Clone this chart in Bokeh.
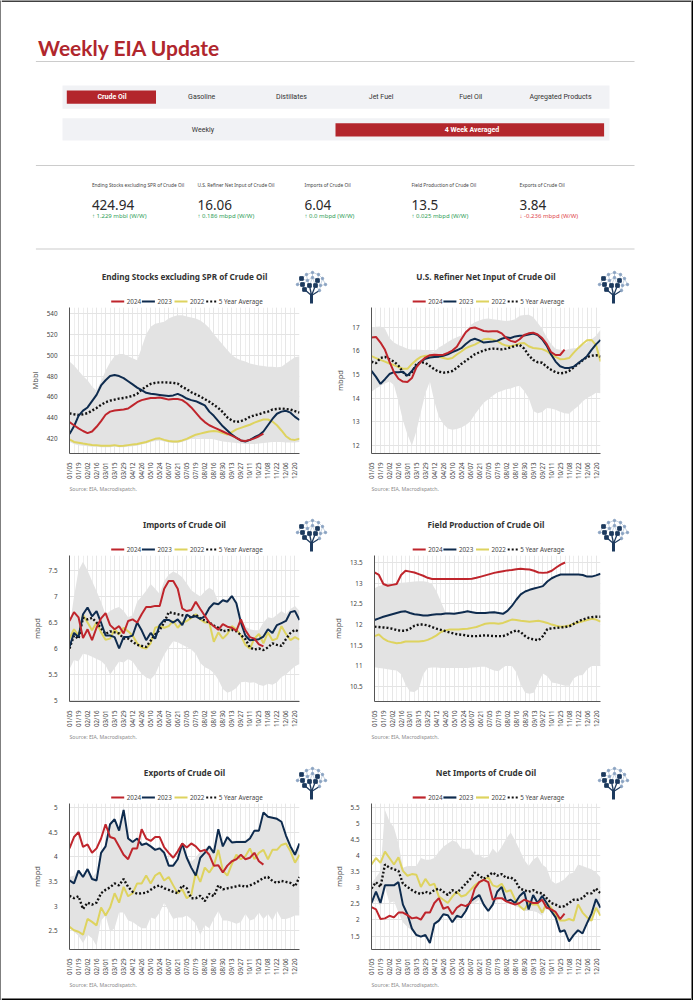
import math
from bokeh.plotting import figure
from bokeh.models import Range1d, FixedTicker, NumeralTickFormatter
from bokeh.layouts import column, row
from bokeh.embed import file_html
from bokeh.resources import INLINE
from bokeh.core.properties import value

# ---------------- data ----------------
weeks = list(range(52))
week_labels = ["01/05", "01/19", "02/02", "02/16", "03/01", "03/15", "03/29", "04/12", "04/26",
               "05/10", "05/24", "06/07", "06/21", "07/05", "07/19", "08/02", "08/16", "08/30",
               "09/13", "09/27", "10/11", "10/25", "11/08", "11/22", "12/06", "12/20"]
series_names = ["2024", "2023", "2022", "5 Year Average"]

tabs = ["Crude Oil", "Gasoline", "Distillates", "Jet Fuel", "Fuel Oil", "Agregated Products"]
modes = ["Weekly", "4 Week Averaged"]
stat_titles = ["Ending Stocks excluding SPR of Crude Oil", "U.S. Refiner Net Input of Crude Oil",
               "Imports of Crude Oil", "Field Production of Crude Oil", "Exports of Crude Oil"]
stat_values = ["424.94", "16.06", "6.04", "13.5", "3.84"]
stat_changes = ["\u2191 1.229 mbbl (W/W)", "\u2191 0.186 mbpd (W/W)", "\u2191 0.0 mbpd (W/W)",
                "\u2191 0.025 mbpd (W/W)", "\u2193 -0.236 mbpd (W/W)"]
stat_up = [True, True, True, True, False]
source_text = "Source: EIA, Macrodispatch."

# Ending stocks excluding SPR (Mbbl)
stocks_2024 = [436, 433, 430, 427.5, 425.5, 427, 431.5, 437, 443, 446, 447, 447.5, 448, 449, 452, 455, 457, 458,
               459, 459, 459.5, 458.5, 457.5, 458, 458, 457, 454, 450, 445, 440, 436, 433, 431, 429, 427, 425,
               423, 421, 418.5, 418, 419, 420.5, 422.5, 424.94]
stocks_2023 = [424.6, 432, 442, 447, 450, 456, 462, 471, 476, 480, 481, 480, 478, 475, 472, 469, 466.5, 464, 463,
               462.5, 462, 461.5, 461, 461.5, 463, 461, 458.5, 457, 456, 454, 452, 446, 442, 437, 432, 428, 424,
               421, 418.5, 417.5, 419, 421.5, 423.5, 427, 433, 439, 444, 446, 446.8, 445, 441, 438]
stocks_2022 = [419.4, 417, 416.3, 415.5, 414.8, 414.2, 414, 413.5, 413.5, 413.5, 414, 413.2, 413.5, 414, 414.5,
               415, 416, 417, 418.5, 420, 420.5, 419, 418, 417.5, 417.5, 418.5, 420, 422, 424, 425, 426, 427,
               427.5, 427, 425.5, 424, 426.5, 429, 430.5, 432, 433.5, 435.5, 437, 438.5, 438.5, 436.5, 433, 428,
               422.5, 419.5, 419, 420]
stocks_avg = [444.3, 443.5, 442.8, 443.5, 444.5, 447, 449.5, 452.5, 455, 456.5, 457.5, 458.5, 459, 460, 461, 463,
              467, 470, 472.5, 473.5, 474, 474, 473.8, 473.5, 472.8, 469.5, 467.5, 464.5, 462.5, 460.5, 458, 455.5,
              452.5, 449.5, 445.5, 440.5, 437.5, 436, 437, 438.5, 441, 442.5, 443.5, 445, 446, 448, 448.5, 449,
              448.5, 448, 446.5, 445]
stocks_lo = [417, 415, 414, 413.5, 413, 412.5, 412.5, 412, 412, 412, 412.5, 412, 412, 412.5, 413, 413.5, 414.5,
             415.5, 417, 418, 418.5, 417.5, 416.5, 416, 416, 417, 418.5, 420, 421, 421, 420.5, 420, 419.5, 418.5,
             417.5, 417, 416.5, 416, 415.5, 415, 415, 415, 415.5, 416, 416.5, 417, 417, 417, 416.5, 416.5, 416.5, 417]
stocks_hi = [494, 490, 485, 480, 476, 470, 466, 475, 485, 493, 499, 501, 501, 499, 497, 495, 507, 520, 527, 530,
             531, 532, 535, 537, 538, 538, 537, 536, 535, 533, 530, 526, 520, 515, 510, 505, 500, 497, 495, 494,
             492, 491, 490, 489.5, 489, 489, 488.5, 489, 492, 495, 498, 499]

# U.S. refiner net input (mbpd)
refin_2024 = [16.57, 16.6, 16.36, 16.05, 15.55, 15.1, 14.82, 14.7, 14.68, 14.85, 15.3, 15.55, 15.72, 15.82, 15.84,
              15.83, 15.84, 15.92, 16.02, 16.18, 16.5, 16.8, 16.97, 17.0, 16.93, 16.85, 16.83, 16.84, 16.84, 16.75,
              16.55, 16.43, 16.38, 16.5, 16.68, 16.75, 16.78, 16.7, 16.55, 16.3, 15.95, 15.83, 15.83, 16.06]
refin_2023 = [15.15, 14.9, 14.6, 14.8, 15.02, 15.1, 15.1, 15.12, 14.95, 15.15, 15.38, 15.55, 15.67, 15.72, 15.74,
              15.76, 15.8, 15.86, 15.95, 16.03, 16.12, 16.3, 16.45, 16.52, 16.45, 16.36, 16.38, 16.4, 16.43, 16.52,
              16.58, 16.55, 16.62, 16.65, 16.66, 16.7, 16.74, 16.68, 16.5, 16.23, 15.85, 15.55, 15.35, 15.28, 15.28,
              15.33, 15.48, 15.62, 15.78, 16.05, 16.28, 16.47]
refin_2022 = [15.78, 15.7, 15.62, 15.55, 15.47, 15.4, 15.32, 15.25, 15.24, 15.45, 15.62, 15.75, 15.8, 15.8, 15.79,
              15.76, 15.7, 15.66, 15.7, 15.85, 15.98, 16.12, 16.2, 16.27, 16.38, 16.5, 16.52, 16.48, 16.43, 16.3,
              16.23, 16.2, 16.25, 16.32, 16.34, 16.2, 16.13, 16.11, 16.08, 16.0, 15.85, 15.75, 15.65, 15.66, 15.7,
              15.92, 16.12, 16.3, 16.46, 16.47, 16.25, 15.55]
refin_avg = [15.55, 15.48, 15.7, 15.75, 15.65, 15.55, 15.38, 15.1, 14.92, 15.1, 15.45, 15.52, 15.5, 15.36, 15.22,
             15.12, 15.08, 15.1, 15.15, 15.28, 15.45, 15.58, 15.72, 15.86, 15.94, 16.02, 16.08, 16.1, 16.09, 16.07,
             16.1, 16.15, 16.22, 16.26, 16.1, 15.82, 15.62, 15.52, 15.5, 15.33, 15.2, 15.1, 15.05, 15.07, 15.15,
             15.3, 15.45, 15.6, 15.74, 15.8, 15.82, 15.76]
refin_lo = [14.27, 14.4, 14.52, 14.62, 14.7, 14.55, 13.85, 13.05, 12.45, 11.98, 12.6, 13.4, 14.2, 14.7, 13.85, 13.2,
            12.9, 12.7, 12.65, 12.68, 12.75, 12.85, 13.0, 13.3, 13.55, 13.8, 13.95, 14.1, 14.23, 14.3, 14.37, 14.41,
            14.48, 14.52, 14.3, 14.0, 13.45, 13.35, 13.4, 13.58, 13.55, 13.5, 13.42, 13.35, 13.33, 13.5, 13.65,
            13.85, 14.0, 14.1, 14.22, 14.2]
refin_hi = [16.97, 17.03, 17.04, 16.95, 16.55, 16.36, 16.25, 16.18, 16.1, 16.05, 16.06, 16.05, 16.03, 16.0, 15.97,
            16.15, 16.25, 16.38, 16.5, 16.58, 16.66, 16.85, 17.1, 17.22, 17.3, 17.36, 17.38, 17.35, 17.33, 17.3,
            17.28, 17.3, 17.35, 17.5, 17.53, 17.54, 17.45, 17.2, 16.95, 16.6, 16.3, 16.1, 16.05, 16.03, 16.08,
            16.12, 16.12, 16.25, 16.35, 16.5, 16.65, 16.9]

# Imports of crude oil (mbpd)
imp_2024 = [6.53, 6.7, 6.6, 6.2, 6.37, 6.16, 6.4, 6.58, 6.68, 6.45, 6.37, 6.43, 6.29, 6.53, 6.56, 6.5, 6.66, 6.8,
            6.8, 6.82, 6.82, 7.15, 7.3, 7.3, 7.15, 6.77, 6.72, 6.74, 6.9, 6.76, 6.63, 6.5, 6.43, 6.36, 6.47, 6.42,
            6.4, 6.34, 6.56, 6.35, 6.22, 6.19, 6.08, 6.04]
imp_2023 = [6.03, 6.3, 6.22, 6.66, 6.79, 6.62, 6.72, 6.5, 6.25, 6.25, 6.22, 6.0, 6.22, 6.22, 6.25, 6.5, 6.35, 6.16,
            6.3, 6.19, 6.45, 6.55, 6.55, 6.5, 6.56, 6.45, 6.65, 6.6, 6.62, 6.57, 6.62, 6.78, 6.87, 6.85, 6.93, 6.9,
            7.01, 6.87, 6.5, 6.25, 6.16, 6.17, 6.18, 6.23, 6.37, 6.3, 6.45, 6.49, 6.53, 6.7, 6.72, 6.55]
imp_2022 = [6.19, 6.37, 6.25, 6.65, 6.5, 6.35, 6.5, 6.31, 6.17, 6.19, 6.37, 6.27, 6.4, 6.33, 6.25, 6.1, 6.02, 6.0,
            6.1, 6.4, 6.43, 6.4, 6.43, 6.53, 6.4, 6.5, 6.53, 6.59, 6.66, 6.56, 6.5, 6.5, 6.13, 6.31, 6.19, 6.28,
            6.43, 6.37, 6.25, 6.07, 6.0, 6.19, 6.28, 6.1, 6.31, 6.16, 6.19, 6.43, 6.28, 6.16, 6.22, 6.17]
imp_avg = [6.0, 6.25, 6.19, 6.59, 6.56, 6.59, 6.5, 6.39, 6.28, 6.33, 6.31, 6.29, 6.19, 6.19, 6.13, 6.07, 6.05, 6.03,
           6.15, 6.27, 6.36, 6.5, 6.7, 6.68, 6.66, 6.64, 6.62, 6.6, 6.65, 6.58, 6.54, 6.5, 6.44, 6.4, 6.33, 6.35,
           6.36, 6.33, 6.26, 6.18, 6.02, 5.98, 6.0, 5.97, 6.02, 6.1, 6.07, 6.05, 6.18, 6.3, 6.36, 6.32]
imp_lo = [5.6, 5.78, 5.75, 5.9, 5.88, 5.84, 5.8, 5.76, 5.68, 5.5, 5.62, 5.75, 5.73, 5.8, 5.75, 5.62, 5.52, 5.44,
          5.41, 5.5, 5.7, 5.88, 6.02, 6.14, 6.12, 6.07, 6.03, 5.98, 5.9, 5.72, 5.64, 5.6, 5.53, 5.4, 5.22, 5.15,
          5.18, 5.24, 5.35, 5.36, 5.34, 5.35, 5.3, 5.28, 5.32, 5.3, 5.35, 5.45, 5.5, 5.58, 5.66, 5.7]
imp_hi = [6.4, 7.0, 7.5, 7.67, 7.5, 7.3, 7.1, 6.9, 6.65, 6.72, 6.77, 6.8, 6.72, 6.6, 6.64, 6.9, 7.0, 7.11, 7.24,
          7.15, 7.05, 7.3, 7.42, 7.48, 7.44, 7.37, 7.25, 7.12, 7.06, 7.0, 7.1, 7.17, 7.11, 6.9, 6.95, 6.95, 7.02,
          6.9, 6.62, 6.42, 6.37, 6.35, 6.35, 6.5, 6.6, 6.58, 6.65, 6.72, 6.66, 6.76, 6.82, 6.72]

# Field production of crude oil (mbpd)
prod_2024 = [13.26, 13.2, 12.98, 12.94, 12.96, 12.98, 13.2, 13.3, 13.28, 13.26, 13.22, 13.18, 13.13, 13.1, 13.1,
             13.1, 13.1, 13.1, 13.1, 13.1, 13.1, 13.1, 13.11, 13.13, 13.16, 13.19, 13.22, 13.25, 13.27, 13.29,
             13.31, 13.32, 13.34, 13.35, 13.34, 13.33, 13.3, 13.26, 13.25, 13.26, 13.3, 13.38, 13.45, 13.5]
prod_2023 = [12.11, 12.15, 12.19, 12.22, 12.25, 12.28, 12.31, 12.32, 12.28, 12.25, 12.24, 12.22, 12.22, 12.24,
             12.25, 12.25, 12.27, 12.27, 12.26, 12.28, 12.3, 12.32, 12.3, 12.28, 12.28, 12.28, 12.29, 12.3, 12.28,
             12.26, 12.33, 12.45, 12.6, 12.73, 12.8, 12.84, 12.87, 12.9, 12.93, 13.04, 13.12, 13.17, 13.21, 13.21,
             13.21, 13.21, 13.21, 13.2, 13.16, 13.16, 13.19, 13.23]
prod_2022 = [11.72, 11.76, 11.66, 11.6, 11.57, 11.55, 11.56, 11.59, 11.59, 11.59, 11.59, 11.6, 11.63, 11.68, 11.74,
             11.82, 11.86, 11.88, 11.88, 11.88, 11.89, 11.9, 11.92, 11.94, 11.98, 12.02, 12.03, 12.03, 12.02, 12.04,
             12.08, 12.12, 12.11, 12.09, 12.08, 12.07, 12.08, 12.09, 12.07, 12.04, 12.0, 11.97, 11.95, 11.96, 11.98,
             12.02, 12.05, 12.08, 12.11, 12.14, 12.12, 12.07]
prod_avg = [11.95, 11.94, 11.93, 11.92, 11.9, 11.87, 11.85, 11.85, 11.9, 11.97, 12.0, 12.0, 11.98, 11.94, 11.9,
            11.87, 11.84, 11.81, 11.78, 11.76, 11.75, 11.73, 11.72, 11.72, 11.73, 11.74, 11.73, 11.72, 11.72, 11.72,
            11.76, 11.82, 11.86, 11.82, 11.72, 11.66, 11.64, 11.62, 11.72, 11.89, 11.91, 11.92, 11.93, 11.94, 11.96,
            12.02, 12.08, 12.12, 12.16, 12.18, 12.19, 12.19]
prod_lo = [10.97, 10.95, 10.94, 10.92, 10.9, 10.89, 10.8, 10.55, 10.38, 10.37, 10.45, 10.8, 10.95, 10.96, 10.96,
           10.95, 10.95, 10.95, 10.95, 10.95, 10.95, 10.95, 10.96, 10.97, 10.98, 10.98, 10.93, 10.89, 10.87, 10.96,
           11.02, 11.0, 10.85, 10.55, 10.35, 10.33, 10.36, 10.6, 10.82, 10.75, 10.6, 10.58, 10.55, 10.52, 10.52,
           10.7, 10.77, 10.78, 10.92, 11.0, 11.03, 10.99]
prod_hi = [12.88, 12.93, 12.96, 12.98, 13.0, 13.0, 13.01, 13.02, 13.03, 13.04, 13.05, 13.05, 13.03, 12.98, 12.8,
           12.55, 12.3, 12.29, 12.28, 12.3, 12.31, 12.33, 12.32, 12.3, 12.3, 12.3, 12.31, 12.32, 12.3, 12.28, 12.35,
           12.47, 12.62, 12.75, 12.82, 12.86, 12.89, 12.92, 12.95, 13.06, 13.14, 13.19, 13.22, 13.22, 13.22, 13.22,
           13.22, 13.21, 13.18, 13.18, 13.2, 13.24]

# Exports of crude oil (mbpd)
exp_2024 = [4.17, 4.4, 4.5, 4.2, 4.25, 4.08, 4.17, 4.37, 4.66, 4.4, 4.37, 4.21, 4.04, 3.95, 4.17, 4.17, 4.56, 4.37,
            4.32, 4.4, 4.4, 4.19, 4.08, 3.98, 4.11, 4.27, 4.19, 4.27, 4.21, 4.11, 4.14, 4.04, 3.82, 3.83, 3.68, 3.82,
            3.91, 3.95, 4.04, 3.95, 3.98, 4.08, 3.91, 3.84]
exp_2023 = [3.52, 3.46, 3.72, 3.59, 3.75, 3.55, 3.52, 4.08, 4.21, 4.66, 4.76, 4.53, 4.95, 4.37, 4.3, 4.37, 4.24,
            4.27, 4.21, 4.14, 4.17, 4.08, 3.82, 3.82, 3.95, 4.27, 3.98, 3.78, 3.62, 3.98, 4.08, 4.21, 4.08, 4.56,
            4.21, 4.4, 4.29, 4.3, 4.3, 4.3, 4.37, 4.53, 4.53, 4.9, 4.81, 4.79, 4.77, 4.71, 4.43, 4.21, 4.04, 4.27]
exp_2022 = [2.58, 2.51, 2.48, 2.42, 2.74, 2.68, 2.61, 2.97, 2.81, 2.97, 3.26, 3.07, 3.39, 3.2, 3.26, 3.46, 3.46,
            3.62, 3.46, 3.62, 3.68, 3.52, 3.59, 3.42, 3.26, 3.34, 3.16, 3.23, 3.68, 3.49, 3.78, 3.68, 3.82, 4.14,
            3.72, 3.62, 3.85, 4.04, 3.95, 4.01, 4.17, 3.95, 4.08, 4.14, 3.95, 4.14, 4.14, 4.24, 4.27, 4.11, 3.88, 4.04]
exp_avg = [3.21, 3.16, 3.2, 2.94, 3.07, 3.03, 3.07, 3.26, 3.33, 3.38, 3.46, 3.42, 3.55, 3.39, 3.29, 3.25, 3.26,
           3.27, 3.33, 3.39, 3.42, 3.36, 3.33, 3.29, 3.26, 3.42, 3.36, 3.16, 3.16, 3.21, 3.1, 3.25, 3.2, 3.42, 3.34,
           3.36, 3.38, 3.4, 3.42, 3.39, 3.42, 3.46, 3.51, 3.57, 3.59, 3.51, 3.47, 3.51, 3.49, 3.47, 3.4, 3.59]
exp_lo = [2.55, 2.48, 2.4, 2.25, 2.42, 2.35, 2.19, 2.71, 2.81, 2.48, 2.55, 2.87, 2.87, 2.71, 2.68, 2.61, 2.55, 2.55,
          2.77, 2.74, 2.87, 3.07, 2.9, 2.74, 2.77, 2.77, 2.81, 2.74, 2.64, 2.42, 2.61, 2.55, 2.74, 2.9, 2.71, 2.71,
          2.68, 2.64, 2.68, 2.84, 2.71, 2.74, 2.87, 2.74, 2.84, 2.71, 2.9, 2.74, 2.74, 2.77, 2.81, 2.81]
exp_hi = [3.59, 3.62, 3.75, 3.62, 3.78, 3.58, 3.68, 4.1, 4.23, 4.68, 4.78, 4.55, 4.97, 4.4, 4.33, 4.39, 4.27, 4.29,
          4.23, 4.17, 4.21, 4.11, 3.85, 3.85, 3.98, 4.29, 4.01, 3.9, 3.98, 4.11, 4.17, 4.23, 4.12, 4.58, 4.24, 4.42,
          4.32, 4.33, 4.33, 4.34, 4.4, 4.56, 4.56, 4.92, 4.83, 4.81, 4.79, 4.73, 4.45, 4.23, 4.08, 4.29]

# Net imports of crude oil (mbpd)
net_2024 = [2.4, 2.33, 2.03, 2.05, 2.13, 2.08, 2.23, 2.23, 2.15, 2.05, 2.08, 2.01, 2.23, 2.23, 2.53, 2.68, 2.35,
            2.41, 2.18, 2.38, 2.48, 2.43, 2.53, 2.98, 3.18, 3.25, 3.18, 2.63, 2.68, 2.68, 2.58, 2.53, 2.48, 2.53,
            2.63, 2.58, 2.53, 2.53, 2.63, 2.38, 2.33, 2.25, 2.03, 2.2]
net_2023 = [2.53, 2.88, 2.53, 3.08, 3.08, 3.08, 3.18, 2.48, 2.18, 1.73, 1.53, 1.48, 1.53, 1.28, 1.88, 1.98, 2.18,
            2.15, 1.93, 2.13, 2.08, 2.28, 2.58, 2.68, 2.78, 2.48, 2.28, 2.48, 2.88, 3.03, 2.58, 2.63, 2.53, 2.75,
            2.88, 2.33, 2.78, 2.53, 2.75, 2.53, 2.28, 2.08, 1.63, 1.68, 1.33, 1.53, 1.68, 1.58, 1.9, 2.2, 2.65, 2.38]
net_2022 = [3.73, 3.93, 3.78, 4.13, 3.93, 3.73, 3.95, 3.53, 3.38, 3.43, 3.41, 3.03, 3.28, 3.08, 3.13, 2.73, 2.63,
            2.53, 2.73, 2.88, 2.73, 2.78, 2.93, 3.08, 3.18, 3.25, 3.33, 3.08, 3.03, 3.13, 2.88, 2.93, 2.63, 2.43,
            2.31, 2.53, 2.48, 2.48, 2.23, 2.53, 2.38, 2.18, 1.98, 1.98, 2.03, 1.98, 2.48, 2.23, 2.08, 1.98, 2.38, 2.13]
net_avg = [2.98, 3.18, 3.03, 3.73, 3.63, 3.58, 3.53, 3.13, 3.03, 2.93, 2.85, 2.81, 2.88, 2.83, 2.93, 2.98, 2.88,
           2.78, 2.93, 2.85, 2.98, 3.13, 3.28, 3.48, 3.38, 3.28, 3.38, 3.48, 3.38, 3.43, 3.31, 3.33, 3.23, 2.98,
           2.93, 2.88, 2.93, 2.85, 2.83, 2.68, 2.53, 2.48, 2.41, 2.43, 2.53, 2.63, 2.63, 2.68, 2.83, 2.83, 2.98, 2.83]
net_lo = [2.48, 2.63, 2.43, 3.03, 2.53, 2.58, 2.23, 1.93, 1.78, 1.68, 1.53, 1.48, 1.53, 1.33, 1.88, 1.98, 2.15,
          2.13, 1.93, 2.13, 2.08, 2.25, 2.53, 2.53, 2.63, 2.43, 2.28, 2.43, 2.63, 2.68, 2.58, 2.63, 2.43, 2.38,
          2.28, 2.28, 2.28, 2.23, 2.13, 2.38, 2.23, 2.03, 1.63, 1.68, 1.33, 1.53, 1.68, 1.58, 1.88, 1.98, 2.33, 2.13]
net_hi = [3.13, 3.33, 3.53, 5.43, 5.08, 4.88, 4.38, 3.63, 3.68, 3.68, 3.68, 3.93, 3.88, 3.88, 3.93, 4.13, 4.28,
          4.38, 4.48, 4.43, 4.23, 4.21, 4.23, 4.03, 4.03, 3.93, 3.98, 4.23, 4.08, 4.28, 4.53, 4.73, 4.48, 4.18,
          3.88, 3.68, 3.88, 3.98, 3.73, 3.63, 3.23, 3.13, 3.18, 3.28, 3.43, 3.48, 3.73, 3.68, 3.63, 3.58, 3.48, 3.33]

# ---------------- style / layout constants ----------------
RED = "#bf252c"
NAVY = "#0e2b4e"
YELLOW = "#ded35f"
BLACK = "#111111"
BAND = "#e3e3e3"
TXT = "#333333"
FONT = "Noto Sans"
SERIES_COLORS = [RED, NAVY, YELLOW, BLACK]
SERIES_DASH = ["solid", "solid", "solid", "2 2"]

INNER_W = 690                       # page width between the black frame strips
LEFT_W, RIGHT_W = 329, 361          # widths of the two chart columns
FRAME_CENTERS = [184, 485.5]        # x centres of the two plot frames (page px)
LOGO_X = [296, 598]                 # left edge of the logos
LEG_OFF = [-73.3, -42.6, -10.0, 21.7]
LEG_GLYPH = [13, 13, 13, 10]


def base_fig(width, height, xr, yr):
    p = figure(width=width, height=height, x_range=Range1d(*xr), y_range=Range1d(*yr),
               output_backend="svg", toolbar_location=None, min_border=0, outline_line_color=None,
               x_axis_type=None, y_axis_type=None, border_fill_color="white", background_fill_color="white")
    p.grid.visible = False
    return p


def draw_logo(p, ox, oy):
    nodes = [(1, 12), (5, 6), (10, 2), (16, 0), (22, 2), (26, 6), (29, 12), (6, 12), (11, 8),
             (16, 5), (21, 8), (24, 13), (13, 13), (19, 13), (8, 17), (23, 18)]
    links = [(0, 1), (1, 2), (2, 3), (3, 4), (4, 5), (5, 6), (0, 7), (1, 8), (2, 8), (3, 9), (4, 10),
             (5, 11), (6, 11), (7, 8), (8, 9), (9, 10), (10, 11), (7, 14), (8, 12), (9, 12), (9, 13),
             (10, 13), (11, 15), (12, 14), (13, 15)]
    p.segment(x0=[ox + nodes[a][0] for a, b in links], y0=[oy + nodes[a][1] for a, b in links],
              x1=[ox + nodes[b][0] for a, b in links], y1=[oy + nodes[b][1] for a, b in links],
              line_color="#a5b8cf", line_width=0.6)
    p.segment(x0=[ox + 15] * 4, y0=[oy + 23] * 4,
              x1=[ox + 8, ox + 13, ox + 19, ox + 23], y1=[oy + 17, oy + 13, oy + 13, oy + 18],
              line_color="#1d3a5e", line_width=1.3)
    p.quad(left=[ox + 13.5], right=[ox + 16.5], top=[oy + 21], bottom=[oy + 31], fill_color="#1d3a5e",
           line_color=None)
    p.scatter([ox + x for x, y in nodes], [oy + y for x, y in nodes], size=2.4, color="#8aa3c2")
    big = [1, 7, 10, 12, 13, 14]
    p.scatter([ox + nodes[i][0] for i in big], [oy + nodes[i][1] for i in big], size=3.6, marker="square",
              color="#1d3a5e")


def make_top(titles):
    p = base_fig(INNER_W, 47, (1, 1 + INNER_W), (47, 0))
    p.text(x=FRAME_CENTERS, y=[16, 16], text=titles, text_font=value(FONT), text_font_size="8.2px",
           text_font_style="bold", text_color=TXT, text_align="center", text_baseline="middle")
    for cx in FRAME_CENTERS:
        for name, col, dash, off, gl in zip(series_names, SERIES_COLORS, SERIES_DASH, LEG_OFF, LEG_GLYPH):
            x0 = cx + off
            p.line([x0, x0 + gl], [41, 41], line_color=col, line_width=2.2, line_dash=dash)
            p.text(x=[x0 + gl + 2.5], y=[41.3], text=[name], text_font=value(FONT), text_font_size="6.3px",
                   text_color="#444444", text_align="left", text_baseline="middle")
    for lx in LOGO_X:
        draw_logo(p, lx, 12)
    return p


def make_source(height, bottom_frame=False):
    p = base_fig(INNER_W, height, (1, 1 + INNER_W), (height, 0))
    p.text(x=[69, 371], y=[7, 7], text=[source_text, source_text], text_font=value(FONT),
           text_font_size="5.2px", text_color="#8a8a8a", text_align="left", text_baseline="middle")
    if bottom_frame:
        p.segment(x0=[1], x1=[1 + INNER_W], y0=[height - 1], y1=[height - 1], line_color="black", line_width=2)
    return p


def make_chart(ylabel, yr, yticks, d24, d23, d22, davg, dlo, dhi, width, left, right):
    p = figure(width=width, height=174, x_range=Range1d(0, 51), y_range=Range1d(*yr),
               output_backend="svg", toolbar_location=None,
               min_border_left=left, min_border_right=right, min_border_top=0, min_border_bottom=22,
               outline_line_color=None, border_fill_color="white", background_fill_color="white")
    major = list(range(0, 52, 2))
    xt = FixedTicker(ticks=major, minor_ticks=weeks)
    p.xaxis.ticker = xt
    p.xgrid.ticker = xt
    p.xaxis.major_label_overrides = {w: lab for w, lab in zip(major, week_labels)}
    p.xaxis.major_label_orientation = math.pi / 2
    p.xaxis.major_label_text_font_size = "6.2px"
    p.xaxis.major_label_text_color = "#444444"
    p.xaxis.major_label_text_font = FONT
    p.xaxis.major_label_standoff = 3
    p.xaxis.major_tick_line_color = None
    p.xaxis.minor_tick_line_color = None
    p.xaxis.axis_line_color = "#555555"

    yt = FixedTicker(ticks=yticks)
    p.yaxis.ticker = yt
    p.ygrid.ticker = yt
    p.yaxis.formatter = NumeralTickFormatter(format="0.[0]")
    p.yaxis.axis_label = ylabel
    p.yaxis.axis_label_text_font = FONT
    p.yaxis.axis_label_text_font_size = "7.5px"
    p.yaxis.axis_label_text_font_style = "normal"
    p.yaxis.axis_label_text_color = "#555555"
    p.yaxis.axis_label_standoff = 4
    p.yaxis.major_label_text_font_size = "6.3px"
    p.yaxis.major_label_text_color = "#444444"
    p.yaxis.major_label_text_font = FONT
    p.yaxis.major_label_standoff = 6
    p.yaxis.major_tick_line_color = None
    p.yaxis.minor_tick_line_color = None
    p.yaxis.axis_line_color = "#555555"

    p.xgrid.grid_line_color = "#e6e6e6"
    p.xgrid.minor_grid_line_color = "#eeeeee"
    p.ygrid.grid_line_color = "#e4e4e4"

    p.varea(x=weeks, y1=dlo, y2=dhi, fill_color=BAND)
    p.line(weeks, d22, line_color=YELLOW, line_width=2)
    p.line(weeks, davg, line_color=BLACK, line_width=2.4, line_dash="2 2")
    p.line(weeks, d23, line_color=NAVY, line_width=2)
    p.line(weeks[:len(d24)], d24, line_color=RED, line_width=2)
    return p


def make_header():
    H = 260
    p = base_fig(INNER_W, H, (1, 1 + INNER_W), (H, 0))
    p.segment(x0=[1], x1=[1 + INNER_W], y0=[0.5], y1=[0.5], line_color="black", line_width=1.5)
    p.text(x=[37.6], y=[46.7], text=["Weekly EIA Update"], text_font=value("Lato"), text_font_size="21px",
           text_font_style="bold", text_color="#b0262d", text_baseline="alphabetic", text_align="left")
    p.segment(x0=[35.4, 35.4, 35.4], x1=[634, 634, 634], y0=[61, 165, 248.5], y1=[61, 165, 248.5],
              line_color="#cccccc", line_width=1.2)
    # tab bars
    p.quad(left=[62, 62], right=[609, 609], top=[85, 117.7], bottom=[108.3, 140], fill_color="#f1f2f5",
           line_color=None)
    p.quad(left=[66.3, 335], right=[155.5, 603.6], top=[90, 122.7], bottom=[103.3, 136], fill_color="#b3262c",
           line_color=None)
    tab_x = [111.5 + 89.7 * i for i in range(len(tabs))]
    p.text(x=tab_x[1:], y=[96.7] * 5, text=tabs[1:], text_font=value("Roboto"), text_font_size="7px",
           text_color="#333333", text_align="center", text_baseline="middle")
    p.text(x=[tab_x[0]], y=[96.7], text=[tabs[0]], text_font=value("Roboto"), text_font_size="7px",
           text_font_style="bold", text_color="white", text_align="center", text_baseline="middle")
    p.text(x=[202.4], y=[129.3], text=[modes[0]], text_font=value("Roboto"), text_font_size="7px",
           text_color="#333333", text_align="center", text_baseline="middle")
    p.text(x=[471.5], y=[129.3], text=[modes[1]], text_font=value("Roboto"), text_font_size="7px",
           text_font_style="bold", text_color="white", text_align="center", text_baseline="middle")
    # stats
    sx = [91.4, 197, 304, 411, 519]
    p.text(x=sx, y=[184] * 5, text=stat_titles, text_font=value(FONT), text_font_size="4.8px",
           text_color="#444444", text_align="left", text_baseline="middle")
    p.text(x=sx, y=[204.3] * 5, text=stat_values, text_font=value(FONT), text_font_size="13.5px",
           text_color="#2a2a2a", text_align="left", text_baseline="alphabetic")
    cols = ["#2f9e58" if u else "#e0474c" for u in stat_up]
    p.text(x=sx, y=[215] * 5, text=stat_changes, text_font=value(FONT), text_font_size="6px",
           text_color=cols, text_align="left", text_baseline="middle")
    return p


def strip(width):
    p = figure(width=width, height=1000, x_range=Range1d(0, 1), y_range=Range1d(0, 1), output_backend="svg",
               toolbar_location=None, min_border=0, outline_line_color=None, x_axis_type=None,
               y_axis_type=None, border_fill_color="black", background_fill_color="black")
    p.grid.visible = False
    return p


header = make_header()
specs = [
    (["Ending Stocks excluding SPR of Crude Oil", "U.S. Refiner Net Input of Crude Oil"],
     ("Mbbl", (406, 545.5), [420, 440, 460, 480, 500, 520, 540],
      stocks_2024, stocks_2023, stocks_2022, stocks_avg, stocks_lo, stocks_hi),
     ("mbpd", (11.64, 17.85), [12, 13, 14, 15, 16, 17],
      refin_2024, refin_2023, refin_2022, refin_avg, refin_lo, refin_hi), 27),
    (["Imports of Crude Oil", "Field Production of Crude Oil"],
     ("mbpd", (4.98, 7.79), [5, 5.5, 6, 6.5, 7, 7.5],
      imp_2024, imp_2023, imp_2022, imp_avg, imp_lo, imp_hi),
     ("mbpd", (10.14, 13.67), [10.5, 11, 11.5, 12, 12.5, 13, 13.5],
      prod_2024, prod_2023, prod_2022, prod_avg, prod_lo, prod_hi), 27),
    (["Exports of Crude Oil", "Net Imports of Crude Oil"],
     ("mbpd", (2.12, 5.08), [2.5, 3, 3.5, 4, 4.5, 5],
      exp_2024, exp_2023, exp_2022, exp_avg, exp_lo, exp_hi),
     ("mbpd", (1.08, 5.63), [1.5, 2, 2.5, 3, 3.5, 4, 4.5, 5, 5.5],
      net_2024, net_2023, net_2022, net_avg, net_lo, net_hi), 23),
]

blocks = [header]
for i, (titles, lspec, rspec, src_h) in enumerate(specs):
    blocks.append(make_top(titles))
    left_chart = make_chart(*lspec, width=LEFT_W, left=68, right=31)
    right_chart = make_chart(*rspec, width=RIGHT_W, left=41, right=91)
    blocks.append(row(left_chart, right_chart))
    blocks.append(make_source(src_h, bottom_frame=(i == len(specs) - 1)))

layout = row(strip(1), column(*blocks), strip(2))
open("out.html", "w").write(file_html(layout, INLINE))
